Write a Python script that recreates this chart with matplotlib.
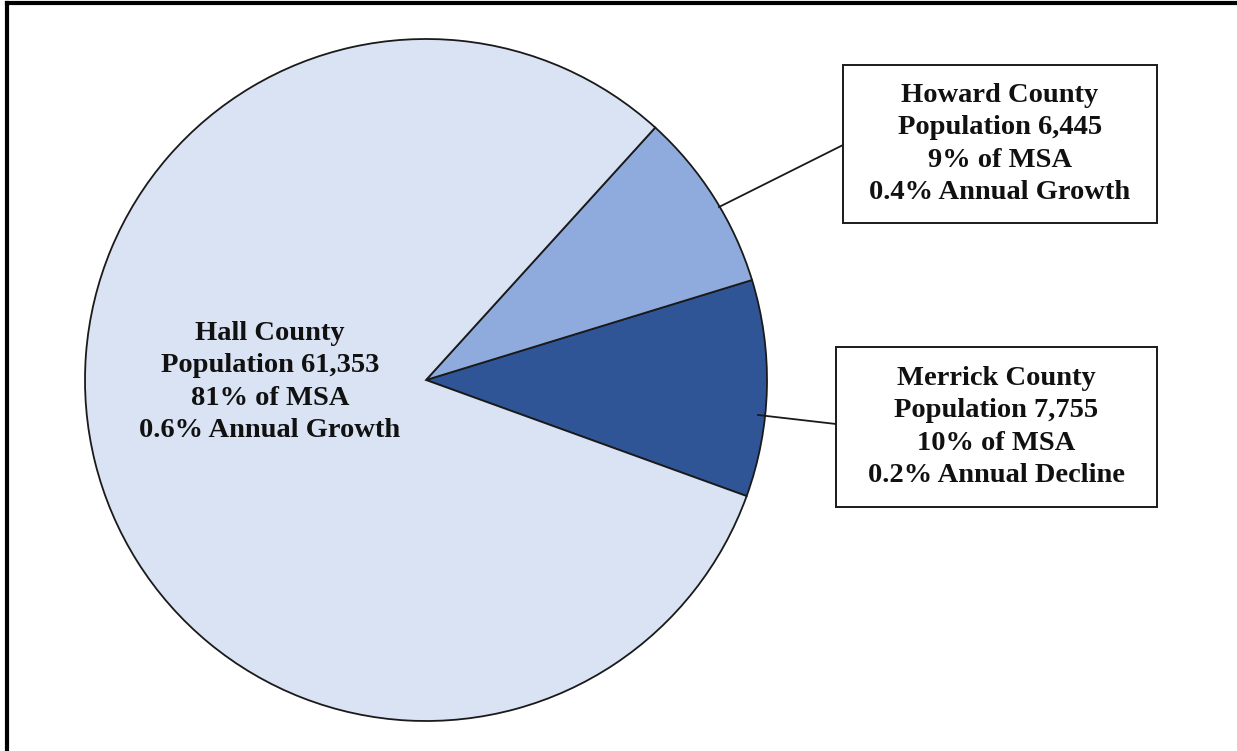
import matplotlib
matplotlib.use("Agg")
import matplotlib.pyplot as plt
from matplotlib.lines import Line2D

# County data for the MSA
counties = ["Merrick County", "Howard County", "Hall County"]
population = [7755, 6445, 61353]
share_pct = [10, 9, 81]
growth_text = ["0.2% Annual Decline", "0.4% Annual Growth", "0.6% Annual Growth"]
colors = ["#2F5597", "#8FAADC", "#DAE3F3"]

W, H = 1237, 751
fig = plt.figure(figsize=(W / 100, H / 100), dpi=100)
ax = fig.add_axes([0, 0, 1, 1])
ax.set_xlim(0, W)
ax.set_ylim(0, H)
ax.set_aspect("equal")
ax.axis("off")


def py(y):
    """Convert a top-down pixel row to the axes' y coordinate."""
    return H - y


cx, cy, r = 426, py(380), 341
wedges, _ = ax.pie(population, colors=colors, startangle=-19.9, counterclock=True,
                   center=(cx, cy), radius=r, frame=True,
                   wedgeprops=dict(edgecolor="#1a1a1a", linewidth=1.3))
ax.set_xlim(0, W)
ax.set_ylim(0, H)
ax.axis("off")


def label(i):
    return (f"{counties[i]}\nPopulation {population[i]:,}\n"
            f"{share_pct[i]}% of MSA\n{growth_text[i]}")


font = dict(family="Liberation Serif", weight="bold", fontsize=20.5,
            ha="center", va="center", linespacing=1.37, color="#111111")

# Hall label inside its slice
ax.text(270, py(382), label(2), **font)

# Boxed callouts for the smaller counties
boxes = {1: (843, 65, 1157, 223), 0: (836, 347, 1157, 507)}
leaders = {1: ((719, 207), (843, 145)), 0: ((758, 415), (836, 424))}
for i, (x0, y0, x1, y1) in boxes.items():
    ax.add_patch(plt.Rectangle((x0, py(y1)), x1 - x0, y1 - y0, facecolor="white",
                               edgecolor="#1a1a1a", linewidth=1.4, zorder=3))
    ax.text((x0 + x1) / 2, py((y0 + y1) / 2), label(i), zorder=4, **font)
    (ax_, ay_), (bx_, by_) = leaders[i]
    ax.add_line(Line2D([ax_, bx_], [py(ay_), py(by_)], color="#1a1a1a",
                       linewidth=1.3, zorder=2))

# Outer frame lines (top and left)
fig.add_artist(Line2D([7 / W, 1], [1 - 3 / H, 1 - 3 / H], transform=fig.transFigure,
                      color="black", linewidth=3))
fig.add_artist(Line2D([7 / W, 7 / W], [0, 1 - 3 / H], transform=fig.transFigure,
                      color="black", linewidth=3))

fig.savefig("out.png", dpi=100, facecolor="white")
